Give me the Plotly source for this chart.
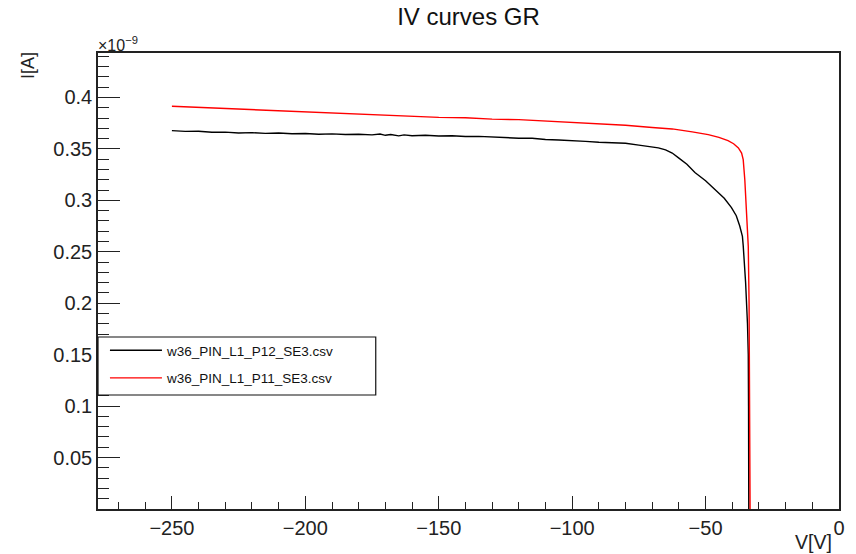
import plotly.graph_objects as go

# Data (current in units of 1e-9 A, voltage in V)
v_p12 = [-250, -245, -240, -235, -230, -225, -220, -215, -210, -205, -200, -195, -190,
         -185, -180, -175, -172, -170, -168, -165, -163, -160, -155, -150, -145, -140,
         -135, -130, -125, -120, -115, -110, -105, -100, -95, -90, -85, -80, -75, -70,
         -67.7, -65, -62.5, -60, -57, -54, -50, -46.5, -43, -40.3, -38.5, -37.2, -36.2,
         -35.9, -35.0, -34.3, -34.0, -33.9, -33.8, -33.8]
i_p12 = [0.3678, 0.3670, 0.3671, 0.3662, 0.3663, 0.3655, 0.3658, 0.3651, 0.3654, 0.3647,
         0.3650, 0.3643, 0.3646, 0.3640, 0.3643, 0.3636, 0.3644, 0.3632, 0.3640, 0.3627,
         0.3636, 0.3628, 0.3632, 0.3625, 0.3628, 0.3620, 0.3622, 0.3615, 0.3614, 0.3604,
         0.3603, 0.3591, 0.3587, 0.3577, 0.3573, 0.3565, 0.3563, 0.3555, 0.3537, 0.3518,
         0.3510, 0.3490, 0.3460, 0.3410, 0.3350, 0.3270, 0.3190, 0.3105, 0.3020, 0.2930,
         0.2850, 0.2750, 0.2650, 0.2560, 0.2200, 0.1800, 0.1500, 0.1000, 0.0500, -0.0100]

v_p11 = [-250, -240, -230, -220, -210, -200, -190, -180, -173, -165, -160, -150, -140,
         -130, -120, -110, -100, -90, -80, -70, -62.5, -55, -49, -45, -41.6, -39.5,
         -37.7, -36.5, -35.9, -35.3, -34.6, -34.0, -33.7, -33.5, -33.3, -33.3]
i_p11 = [0.3914, 0.3903, 0.3898, 0.3880, 0.3875, 0.3858, 0.3853, 0.3836, 0.3830, 0.3821,
         0.3817, 0.3806, 0.3802, 0.3789, 0.3784, 0.3770, 0.3759, 0.3740, 0.3730, 0.3708,
         0.3694, 0.3665, 0.3639, 0.3612, 0.3580, 0.3550, 0.3510, 0.3460, 0.3396, 0.3200,
         0.2880, 0.2550, 0.2000, 0.1000, 0.0000, -0.0100]

names = ["w36_PIN_L1_P12_SE3.csv", "w36_PIN_L1_P11_SE3.csv"]
colors = ["#000000", "#ff0000"]

FONT = "Liberation Sans, Arial, sans-serif"
AX = "#222222"

fig = go.Figure()
fig.add_trace(go.Scatter(x=v_p12, y=i_p12, mode="lines", name=names[0],
                         line=dict(color=colors[0], width=1.4), legendgroup="a"))
fig.add_trace(go.Scatter(x=v_p11, y=i_p11, mode="lines", name=names[1],
                         line=dict(color=colors[1], width=1.4), legendgroup="b"))

# legend frame (ROOT-style wide box)
fig.add_shape(type="rect", xref="paper", yref="paper", layer="above",
              x0=0.0, x1=(378 - 98) / 747, y0=(509 - 395) / 456, y1=(509 - 337) / 456,
              line=dict(color="#111111", width=1.2), fillcolor="white")

fig.update_layout(
    width=856, height=554,
    margin=dict(l=98, r=11, t=53, b=45),
    paper_bgcolor="white", plot_bgcolor="white",
    font=dict(family=FONT, color=AX),
    title=dict(text="IV curves GR", x=0.5, xref="paper", xanchor="center",
               y=1 - 17 / 554, yref="container", yanchor="middle",
               font=dict(size=24, color="#111111")),
    showlegend=True,
    legend=dict(x=7 / 747, y=(509 - 335) / 456, xanchor="left", yanchor="top",
                borderwidth=0, bgcolor="rgba(0,0,0,0)",
                font=dict(size=13.5, color="#111111"), itemwidth=52,
                tracegroupgap=7, traceorder="grouped"),
    xaxis=dict(range=[-277.7, 0], showgrid=False, zeroline=False,
               showline=True, linecolor=AX, linewidth=1.5, mirror=True,
               ticks="inside", ticklen=13, tickwidth=1.2, tickcolor=AX,
               tick0=0, dtick=50, ticklabeloverflow="allow",
               minor=dict(ticks="inside", ticklen=7, tickcolor=AX, tickwidth=1.2, dtick=10),
               tickfont=dict(size=20, color="#222222")),
    yaxis=dict(range=[0, 0.4432], showgrid=False, zeroline=False,
               showline=True, linecolor=AX, linewidth=1.5, mirror=True,
               ticks="inside", ticklen=22, tickwidth=1.2, tickcolor=AX,
               tick0=0, dtick=0.05,
               minor=dict(ticks="inside", ticklen=11, tickcolor=AX, tickwidth=1.2, dtick=0.01),
               tickfont=dict(size=20, color="#222222"),
               tickvals=[0.05, 0.1, 0.15, 0.2, 0.25, 0.3, 0.35, 0.4],
               ticktext=["0.05", "0.1", "0.15", "0.2", "0.25", "0.3", "0.35", "0.4"]),
    annotations=[
        dict(text="×10<sup>−9</sup>", xref="paper", yref="paper", x=0, y=1,
             xanchor="left", yanchor="bottom", showarrow=False,
             font=dict(size=16, color="#222222"), xshift=-2, yshift=-3),
        dict(text="I[A]", xref="paper", yref="paper", x=0, y=1, xshift=-70, yshift=-13,
             xanchor="center", yanchor="middle", textangle=-90, showarrow=False,
             font=dict(size=18, color="#222222")),
        dict(text="V[V]", xref="paper", yref="paper", x=1, y=0, xshift=-5, yshift=-33,
             xanchor="right", yanchor="middle", showarrow=False,
             font=dict(size=19.5, color="#222222")),
    ],
)

fig.write_html("out.html")
